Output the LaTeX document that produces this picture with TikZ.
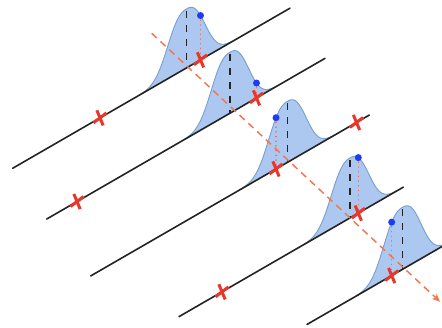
\documentclass[tikz,border=0pt]{standalone}
\usetikzlibrary{arrows.meta,shapes.misc}
\definecolor{gfill}{RGB}{172,200,240}
\definecolor{gedge}{RGB}{120,160,200}
\definecolor{trend}{RGB}{240,120,85}
\definecolor{xred}{RGB}{232,55,40}
\definecolor{dotblue}{RGB}{30,60,245}
\definecolor{axisgray}{RGB}{35,35,35}
\tikzset{
  axisline/.style={axisgray, line width=1.6pt, line cap=round},
  gcurve/.style={gedge, line width=0.9pt},
  meanline/.style={axisgray, line width=1.8pt, dash pattern=on 7pt off 7pt},
  sampleline/.style={xred!75!white, line width=1.5pt, dash pattern=on 0.1pt off 4.6pt, line cap=round},
  trendline/.style={trend, line width=1.5pt, dash pattern=on 7pt off 5pt, -{Stealth[length=8pt,width=7pt]}},
  xcross/.style={cross out, draw=xred, line width=3pt, minimum width=7pt, minimum height=10pt, inner sep=0pt, rotate=-15},
  sampledot/.style={circle, fill=dotblue, inner sep=0pt, minimum size=7pt},
}
\begin{document}
\begin{tikzpicture}[x=1pt,y=-1pt]
\useasboundingbox (0,0) rectangle (442,328);
\clip (0,0) rectangle (442,328);
% gaussians
\foreach \b/\m/\A [count=\i] in {175.6/186.5/59, 246/230/61, 328.3/287.5/61, 420/350/60, 501.7/402.5/62} {
  \fill[gfill] plot[domain=-46:46,samples=93] ({\m+\x},{\b-0.57735*(\m+\x)-\A*exp(-(abs(\x)/23.1)*(abs(\x)/23.1)*sqrt(abs(\x)/23.1))}) -- cycle;
  \draw[gcurve] plot[domain=-46:46,samples=93] ({\m+\x},{\b-0.57735*(\m+\x)-\A*exp(-(abs(\x)/23.1)*(abs(\x)/23.1)*sqrt(abs(\x)/23.1))});
}
% axis lines
\foreach \b/\xs/\xe [count=\i] in {175.6/12.7/290, 246/46.7/325, 328.3/90.7/369.3, 420/179/403.3, 501.7/307/450} {
  \coordinate (L\i a) at (\xs,{\b-0.57735*\xs});
  \coordinate (L\i b) at (\xe,{\b-0.57735*\xe});
  \draw[axisline] (L\i a) -- (L\i b);
}
% mean lines
\foreach \b/\m/\A [count=\i] in {175.6/186.5/59, 246/230/61, 328.3/287.5/61, 420/350/60, 501.7/402.5/62} {
  \coordinate (M\i top) at (\m,{\b-0.57735*\m-\A+2});
  \coordinate (M\i bot) at (\m,{\b-0.57735*\m});
  \draw[meanline] (M\i top) -- (M\i bot);
}
% trend arrow
\coordinate (T0) at (151.7,33.3);
\coordinate (T1) at (440,301.7);
\draw[trendline] (T0) -- (T1);
% samples on the gaussians
\foreach \b/\m/\A/\xr [count=\i] in {175.6/186.5/59/200.5, 246/230/61/256.5, 328.3/287.5/61/276, 420/350/60/358.3, 501.7/402.5/62/391.7} {
  \pgfmathsetmacro\dd{abs(\xr-\m)/23.1}
  \pgfmathsetmacro\hh{\A*exp(-\dd*\dd*sqrt(\dd))}
  \coordinate (B\i) at (\xr,{\b-0.57735*\xr});
  \coordinate (P\i) at (\xr,{\b-0.57735*\xr-\hh});
  \draw[sampleline] (P\i) -- (B\i);
  \node[xcross] (X\i) at (B\i) {};
  \node[sampledot] (D\i) at (P\i) {};
}
% other crosses
\foreach \b/\xr [count=\i] in {175.6/100, 246/77, 328.3/356.5, 420/222} {
  \node[xcross] (Y\i) at (\xr,{\b-0.57735*\xr}) {};
}
\end{tikzpicture}
\end{document}
